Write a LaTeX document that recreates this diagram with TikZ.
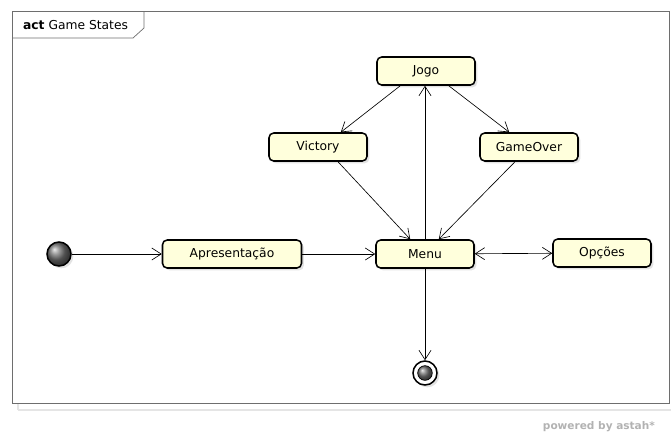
\documentclass[tikz,border=0pt]{standalone}
\usepackage{fontspec}
\setmainfont{DejaVu Sans}
\usepackage{xcolor}
\usetikzlibrary{arrows.meta,positioning,shadows,calc}

\definecolor{statefill}{HTML}{FFFFDC}
\definecolor{framegray}{HTML}{6E6E6E}

\tikzset{
    state/.style={draw, line width=1.3pt, rounded corners=4pt, fill=statefill,
        minimum width=2.94cm, minimum height=0.84cm, inner sep=0pt,
        font=\fontsize{10.5}{12}\selectfont,
        drop shadow={shadow xshift=0.7mm, shadow yshift=-0.7mm, opacity=0.22}},
    trans/.style={-{Straight Barb[length=2.8mm,width=3.6mm]}, line width=0.55pt}
}

\begin{document}
\begin{tikzpicture}[x=0.03cm, y=-0.03cm]
    \useasboundingbox (0,0) rectangle (672,435);

    % Frame
    \draw[black!10, line width=1pt] (18,410) -- (671,410);
    \draw[black!10, line width=1pt] (18,403) -- (18,410);
    \draw[framegray, line width=0.6pt] (12,11) rectangle (669,403);
    \draw[framegray, line width=0.6pt] (12,38) -- (133,38) -- (144,28) -- (144,11);
    \node[anchor=west, font=\fontsize{10.5}{12}\selectfont] (title) at (19,25) {\textbf{act} Game States};

    % States
    \node[state] (jogo) at (426,71) {Jogo};
    \node[state] (victory) at (318,147) {Victory};
    \node[state] (gameover) at (529,147) {GameOver};
    \node[state, minimum width=4.17cm] (apres) at (232,254) {Apresentação};
    \node[state] (menu) at (425,254) {Menu};
    \node[state] (opcoes) at (602,253) {Opções};

    % Initial and final
    \node[circle, draw, line width=1.3pt, minimum size=0.72cm, inner sep=0pt,
        shading=ball, ball color=black!55,
        drop shadow={shadow xshift=0.7mm, shadow yshift=-0.7mm, opacity=0.22}] (start) at (59,254) {};
    \node[circle, draw, line width=1.3pt, fill=white, minimum size=0.72cm, inner sep=0pt,
        drop shadow={shadow xshift=0.7mm, shadow yshift=-0.7mm, opacity=0.22}] (stop) at (425,373) {};
    \node[circle, draw, line width=0.6pt, minimum size=0.44cm, inner sep=0pt,
        shading=ball, ball color=black!55] (stopin) at (stop) {};

    % Transitions
    \draw[trans] (start) -- (apres);
    \draw[trans] (apres) -- (menu);
    \draw[trans] (menu.north) -- (jogo.south -| menu.north);
    \draw[trans] ($(jogo.south west)+(24,0)$) -- ($(victory.north east)+(-27,0)$);
    \draw[trans] ($(jogo.south east)+(-27,0)$) -- ($(gameover.north west)+(30,0)$);
    \draw[trans] ($(victory.south)+(20,0)$) -- ($(menu.north west)+(35,0)$);
    \draw[trans] ($(gameover.south)+(-14,0)$) -- ($(menu.north east)+(-36,0)$);
    \draw[{Straight Barb[length=2.8mm,width=3.6mm]}-{Straight Barb[length=2.8mm,width=3.6mm]}, line width=0.55pt] (menu) -- (opcoes);
    \draw[trans] (menu.south) -- (stop);

    % Footer
    \node[anchor=east, text=black!30, font=\fontsize{9}{11}\selectfont\bfseries] (astah) at (659,427) {powered by astah*};
\end{tikzpicture}
\end{document}
